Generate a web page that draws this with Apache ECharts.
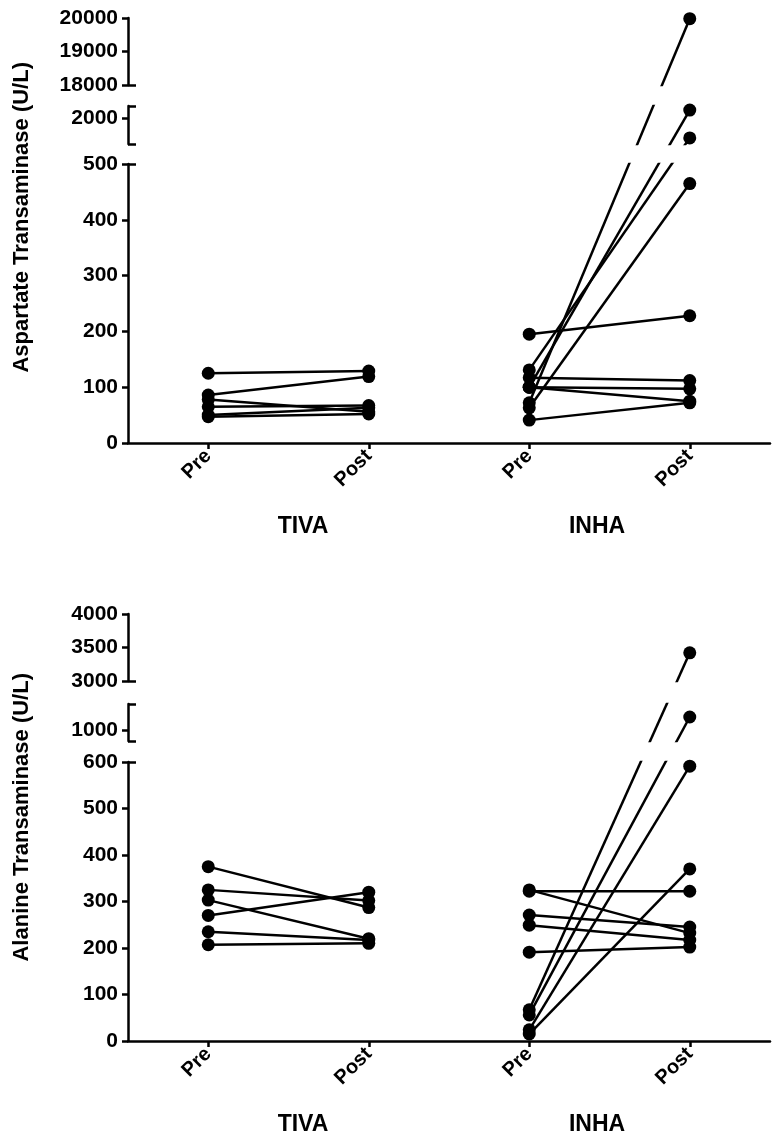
<!DOCTYPE html>
<html><head><meta charset="utf-8">
<script src="https://cdn.jsdelivr.net/npm/echarts@6/dist/echarts.min.js"></script>
<style>html,body{margin:0;padding:0;background:#fff}#c{width:784px;height:1147px}</style>
</head><body><div id="c"></div>
<script>
// ---------- data ----------
const categories = ['Pre', 'Post', 'Pre', 'Post'];
const groupLabels = ['TIVA', 'INHA'];
const astTitle = 'Aspartate Transaminase (U/L)';
const altTitle = 'Alanine Transaminase (U/L)';

// Aspartate transaminase, paired subjects (pre -> post)
const astTivaPre  = [125, 86, 78, 65, 50, 47];
const astTivaPost = [129, 119, 56, 67, 63, 52];
const astInhaPre  = [195, 131, 117, 100, 100, 100, 72, 63, 41];
const astInhaPost = [228, 1620, 112, 2170, 97, 75, 19980, 465, 72];

// Alanine transaminase, paired subjects (pre -> post)
const altTivaPre  = [375, 325, 303, 270, 235, 207];
const altTivaPost = [287, 302, 220, 320, 217, 210];
const altInhaPre  = [325, 322, 271, 249, 191, 67, 56, 24, 15];
const altInhaPost = [232, 322, 245, 217, 202, 3420, 1254, 591, 370];

// broken-axis segments (value ranges) and their tick values
const astSegRanges = [[0, 500], [1500, 2250], [18000, 20000]];
const astSegTicks  = [[0, 100, 200, 300, 400, 500], [2000], [18000, 19000, 20000]];
const altSegRanges = [[0, 600], [800, 1500], [3000, 4000]];
const altSegTicks  = [[0, 100, 200, 300, 400, 500, 600], [1000], [3000, 3500, 4000]];

// ---------- layout ----------
const FONT = '"Liberation Sans", Arial, sans-serif';
const AXW = 2.5;
const GRID_LEFT = 128, GRID_WIDTH = 642;

const panels = [
  { title: astTitle, titleX: 22, titleY: 62, groupY: 527,
    ranges: astSegRanges, ticks: astSegTicks,
    layout: [ {top:164, height:279, capTop:true,  capBottom:false},
              {top:106, height:38,  capTop:true,  capBottom:true},
              {top:18,  height:67,  capTop:false, capBottom:true} ],
    groups: [[0, astTivaPre, astTivaPost], [2, astInhaPre, astInhaPost]] },
  { title: altTitle, titleX: 22, titleY: 673, groupY: 1125,
    ranges: altSegRanges, ticks: altSegTicks,
    layout: [ {top:762, height:279, capTop:true,  capBottom:false},
              {top:704, height:37,  capTop:true,  capBottom:true},
              {top:614, height:67,  capTop:false, capBottom:true} ],
    groups: [[0, altTivaPre, altTivaPost], [2, altInhaPre, altInhaPost]] }
];

// position of a value along the broken axis (continuous across segments)
function brokenPos(p, v) {
  for (let i = 0; i < p.ranges.length; i++) {
    const [a, b] = p.ranges[i], L = p.layout[i];
    if (v >= a && v <= b) return L.top + L.height - (v - a) / (b - a) * L.height;
  }
  return null;
}
// express that position in the linear scale of segment k
function localValue(p, k, v) {
  const pos = brokenPos(p, v);
  const [a, b] = p.ranges[k], L = p.layout[k];
  return a + (L.top + L.height - pos) / L.height * (b - a);
}

const grids = [], xAxes = [], yAxes = [], series = [], graphics = [];
panels.forEach(p => {
  p.ranges.forEach((r, k) => {
    const L = p.layout[k];
    const gi = grids.length;
    grids.push({ left: GRID_LEFT, width: GRID_WIDTH, top: L.top, height: L.height, outerBoundsMode: 'none', containLabel: false });
    xAxes.push({
      gridIndex: gi, type: 'category', data: categories, boundaryGap: true, show: k === 0,
      axisLine: { show: true, lineStyle: { color: '#000', width: AXW } },
      axisTick: { show: true, alignWithLabel: true, length: 6, lineStyle: { color: '#000', width: AXW } },
      axisLabel: { show: true, interval: 0, rotate: 45, margin: 10, color: '#000', fontFamily: FONT, fontWeight: 'bold', fontSize: 20 },
      splitLine: { show: false }
    });
    const yi = yAxes.length;
    yAxes.push({
      gridIndex: gi, type: 'value', min: r[0], max: r[1], position: 'left',
      axisLine: { show: true, onZero: false, lineStyle: { color: '#000', width: AXW } },
      axisTick: { show: true, inside: false, length: 6, customValues: p.ticks[k], lineStyle: { color: '#000', width: AXW } },
      axisLabel: { show: true, margin: 10, customValues: p.ticks[k], formatter: v => String(v),
                   color: '#000', fontFamily: FONT, fontWeight: 'bold', fontSize: 21 },
      splitLine: { show: false }
    });
    const caps = [];
    if (L.capBottom) caps.push(r[0]);
    if (L.capTop) caps.push(r[1]);
    yAxes.push({
      gridIndex: gi, type: 'value', min: r[0], max: r[1], position: 'left', offset: 0,
      axisLine: { show: false },
      axisTick: { show: caps.length > 0, inside: true, length: 8, customValues: caps, lineStyle: { color: '#000', width: AXW } },
      axisLabel: { show: false },
      splitLine: { show: false }
    });
    p.groups.forEach(([x0, pre, post]) => {
      pre.forEach((v, i) => {
        series.push({
          type: 'line', xAxisIndex: gi, yAxisIndex: yi, clip: true, silent: true,
          symbol: 'circle', symbolSize: 13, showAllSymbol: true,
          lineStyle: { color: '#000', width: 2.5 }, itemStyle: { color: '#000' },
          data: [[x0, localValue(p, k, v)], [x0 + 1, localValue(p, k, post[i])]]
        });
      });
    });
  });
  graphics.push({ type: 'text', x: p.titleX, y: p.titleY, rotation: Math.PI / 2,
    style: { text: p.title, font: 'bold 22px ' + FONT, fill: '#000', textAlign: 'right', textVerticalAlign: 'middle' } });
  graphics.push({ type: 'text', x: 303, y: p.groupY,
    style: { text: groupLabels[0], font: 'bold 23px ' + FONT, fill: '#000', textAlign: 'center', textVerticalAlign: 'middle' } });
  graphics.push({ type: 'text', x: 597, y: p.groupY,
    style: { text: groupLabels[1], font: 'bold 23px ' + FONT, fill: '#000', textAlign: 'center', textVerticalAlign: 'middle' } });
});

const chart = echarts.init(document.getElementById('c'));
chart.setOption({
  animation: false,
  backgroundColor: '#fff',
  grid: grids, xAxis: xAxes, yAxis: yAxes, series: series, graphic: graphics
});
</script></body></html>
